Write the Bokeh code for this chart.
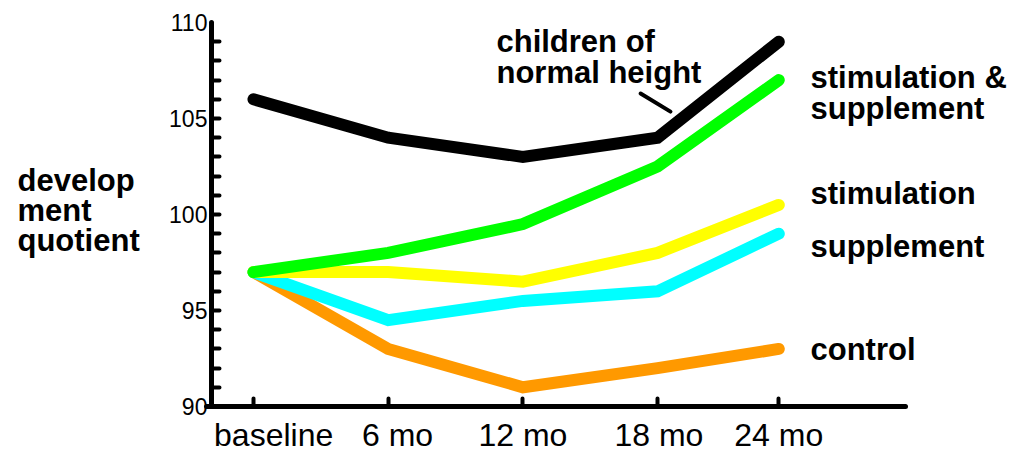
from bokeh.plotting import figure
from bokeh.models import FixedTicker, LinearAxis
from bokeh.core.properties import value
from bokeh.embed import file_html
from bokeh.resources import INLINE

# ---- data ----
categories = ["baseline", "6 mo", "12 mo", "18 mo", "24 mo"]
x_pos = [0, 1, 2, 3, 3.9]
label_pos = [0.15, 1.07, 2, 3.01, 3.9]
normal_height = [106, 104, 103, 104, 109]
stim_supp = [97, 98, 99.5, 102.5, 107]
stimulation = [97, 97, 96.5, 98, 100.5]
supplement = [97, 94.5, 95.5, 96, 99]
control = [97, 93, 91, 92, 93]
y_major = [90, 95, 100, 105, 110]
y_minor = list(range(91, 110))

FONT = value("Liberation Sans")

p = figure(width=1012, height=452, x_range=(-1.878, 5.635), y_range=(87.604, 111.146),
           output_backend="svg", toolbar_location=None,
           min_border=0, min_border_left=0, min_border_right=0,
           min_border_top=0, min_border_bottom=0)
p.outline_line_color = None
p.background_fill_color = "white"
p.border_fill_color = "white"
p.xgrid.visible = False
p.ygrid.visible = False

# y axis
ya = p.yaxis[0]
ya.fixed_location = -0.312
ya.bounds = (90, 110)
ya.ticker = FixedTicker(ticks=y_major, minor_ticks=y_minor)
ya.axis_line_width = 5
ya.axis_line_color = "black"
ya.axis_line_cap = "round"
ya.major_tick_in = 0
ya.major_tick_out = 0
ya.minor_tick_in = 8
ya.minor_tick_out = 0
ya.minor_tick_line_width = 4
ya.minor_tick_line_cap = "round"
ya.minor_tick_line_color = "black"
ya.major_label_text_font = "Liberation Sans"
ya.major_label_text_font_size = "23px"
ya.major_label_text_color = "black"
ya.major_label_standoff = 4

# x axis: line and tick marks
xa = p.xaxis[0]
xa.fixed_location = 90
xa.bounds = (-0.349, 4.84)
xa.ticker = FixedTicker(ticks=x_pos, minor_ticks=[])
xa.major_label_text_font_size = "0px"
xa.major_label_text_alpha = 0
xa.axis_line_width = 5
xa.axis_line_color = "black"
xa.axis_line_cap = "round"
xa.major_tick_in = 8
xa.major_tick_out = 0
xa.major_tick_line_width = 4
xa.major_tick_line_cap = "round"
xa.major_tick_line_color = "black"
xa.minor_tick_in = 0
xa.minor_tick_out = 0

# x axis: category labels
xl = LinearAxis(fixed_location=90, ticker=FixedTicker(ticks=label_pos, minor_ticks=[]),
                major_label_overrides={x: c for x, c in zip(label_pos, categories)},
                axis_line_color=None, major_tick_line_color=None, minor_tick_line_color=None,
                major_tick_in=0, major_tick_out=0, minor_tick_in=0, minor_tick_out=0,
                major_label_text_font="Liberation Sans", major_label_text_font_size="32px",
                major_label_text_color="black", major_label_standoff=11)
p.add_layout(xl, "below")

# lines
lw = 12
p.line(x_pos, normal_height, line_color="black", line_width=lw, line_cap="round", line_join="miter")
p.line(x_pos, control, line_color="#FF9900", line_width=lw, line_cap="round", line_join="miter")
p.line(x_pos, supplement, line_color="#00FFFF", line_width=lw, line_cap="round", line_join="miter")
p.line(x_pos, stimulation, line_color="#FFFF00", line_width=lw, line_cap="round", line_join="miter")
p.line(x_pos, stim_supp, line_color="#00FF00", line_width=lw, line_cap="round", line_join="miter")

# pointer for "children of normal height"
p.segment(x0=[2.874], y0=[106.30], x1=[3.096], y1=[105.36], line_color="black", line_width=4, line_cap="round")

# labels
lab_x = [-1.752, 1.804, 4.135, 4.135, 4.135, 4.135]
lab_y = [100.21, 108.20, 106.33, 101.09, 98.33, 92.97]
lab_t = ["develop\nment\nquotient", "children of\nnormal height", "stimulation &\nsupplement",
         "stimulation", "supplement", "control"]
p.text(x=lab_x, y=lab_y, text=lab_t, text_font=FONT, text_font_style="bold",
       text_font_size="31px", text_color="black", text_align="left",
       text_baseline="middle", text_line_height=0.87)

open("out.html", "w").write(file_html(p, INLINE))
